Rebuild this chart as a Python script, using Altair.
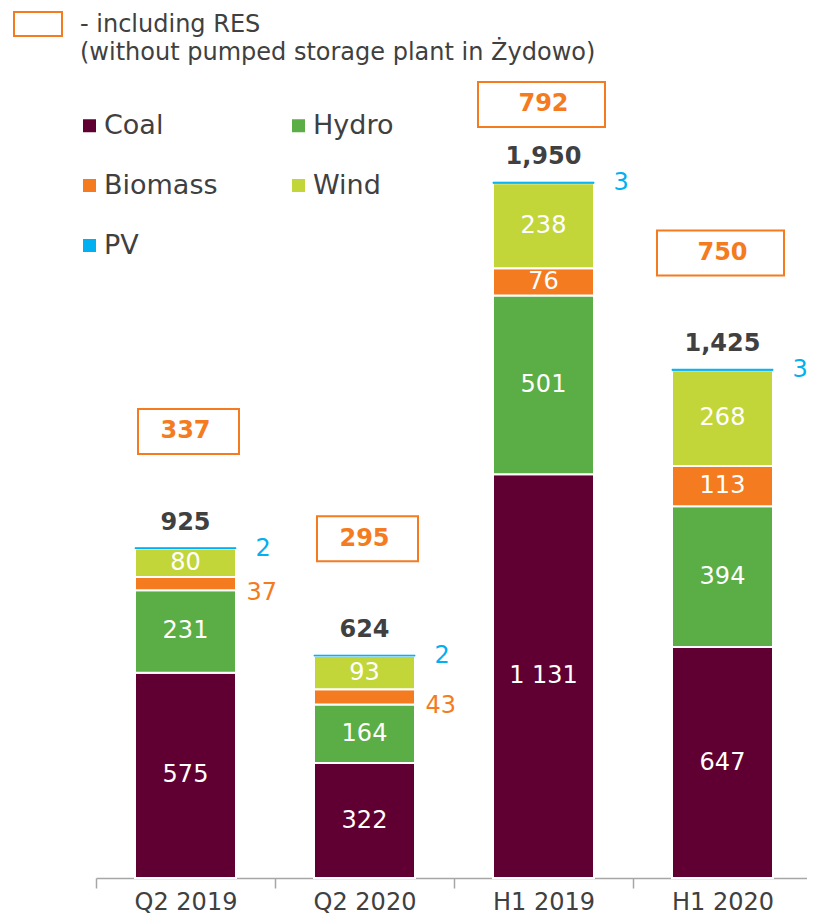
import altair as alt
import pandas as pd

# ---- data ----
periods = ["Q2 2019", "Q2 2020", "H1 2019", "H1 2020"]
sources = ["Coal", "Hydro", "Biomass", "Wind", "PV"]
coal = [575, 322, 1131, 647]
hydro = [231, 164, 501, 394]
biomass = [37, 43, 76, 113]
wind = [80, 93, 238, 268]
pv = [2, 2, 3, 3]
totals = [925, 624, 1950, 1425]
res_totals = [337, 295, 792, 750]
header_lines = ["- including RES", "(without pumped storage plant in Żydowo)"]

source_colors = {
    "Coal": "#600032",
    "Hydro": "#5BAD45",
    "Biomass": "#F47B20",
    "Wind": "#C2D63A",
    "PV": "#00B0F0",
}
# legend fills column by column: Coal, Biomass, PV | Hydro, Wind
legend_order = ["Coal", "Biomass", "PV", "Hydro", "Wind"]
ORANGE = "#F47B20"
BLUE = "#00B0F0"
GREY = "#404040"
FONT = "DejaVu Sans"

rows = []
for i, p in enumerate(periods):
    for j, (s, vals) in enumerate(zip(sources, [coal, hydro, biomass, wind, pv])):
        rows.append({"period": p, "source": s, "order": j, "value": vals[i]})
seg = pd.DataFrame(rows)
tot = pd.DataFrame({"period": periods, "total": totals, "res": res_totals})

ysc = alt.Scale(domain=[0, 2437])
x = alt.X(
    "period:N",
    sort=periods,
    scale=alt.Scale(range=[88, 804], paddingInner=0, paddingOuter=0),
    axis=alt.Axis(
        title=None, labelAngle=0, tickBand="extent",
        domainColor="#A6A6A6", domainWidth=1.5, tickColor="#A6A6A6",
        tickWidth=1.5, tickSize=10, labelFontSize=24, labelColor=GREY,
        labelPadding=2, labelFont=FONT,
    ),
)

stacked = alt.Chart(seg).transform_stack(
    stack="value", groupby=["period"], sort=[alt.SortField("order")], as_=["y0", "y1"]
).transform_calculate(
    mid="(datum.y0 + datum.y1) / 2",
    lab="replace(format(datum.value, ','), ',', ' ')",
)

bars = stacked.mark_bar(width=101).encode(
    x=x,
    y=alt.Y("y0:Q", scale=ysc, axis=None),
    y2="y1:Q",
    color=alt.Color(
        "source:N",
        scale=alt.Scale(domain=legend_order, range=[source_colors[s] for s in legend_order]),
        legend=alt.Legend(
            orient="none", legendX=68, legendY=104, columns=2, title=None,
            symbolType="square", symbolSize=169, symbolStrokeWidth=0,
            labelFontSize=27, labelColor=GREY, labelFont=FONT, labelOffset=1,
            rowPadding=32, columnPadding=67, labelLimit=0,
        ),
    ),
    stroke=alt.condition("datum.source == 'PV'", alt.value(BLUE), alt.value("white")),
    strokeWidth=alt.condition("datum.source == 'PV'", alt.value(1), alt.value(2)),
)

inside = stacked.transform_filter(
    "datum.source != 'PV' && !(datum.source == 'Biomass' && datum.value < 50)"
).mark_text(color="white", fontSize=24, font=FONT, baseline="middle").encode(
    x=x, y=alt.Y("mid:Q", scale=ysc, axis=None), text="lab:N"
)

outside_bio = stacked.transform_filter(
    "datum.source == 'Biomass' && datum.value < 50"
).mark_text(color=ORANGE, fontSize=24, font=FONT, align="left", baseline="middle", dx=61, dy=9).encode(
    x=x, y=alt.Y("mid:Q", scale=ysc, axis=None), text="lab:N"
)

pv_lab = stacked.transform_filter("datum.source == 'PV'").mark_text(
    color=BLUE, fontSize=24, font=FONT, align="left", baseline="middle", dx=70, dy=1
).encode(x=x, y=alt.Y("y1:Q", scale=ysc, axis=None), text="lab:N")

totbase = alt.Chart(tot).transform_calculate(
    tlab="format(datum.total, ',')",
    bc="min(datum.total + 326, 2167)",
    b0="datum.bc - 63",
    b1="datum.bc + 63",
)

total_lab = totbase.mark_text(
    color=GREY, fontSize=24, font=FONT, fontWeight="bold", baseline="middle", dy=-25
).encode(x=x, y=alt.Y("total:Q", scale=ysc, axis=None), text="tlab:N")

box_q = totbase.transform_filter("indexof(datum.period, 'Q') == 0").mark_bar(
    width=101, fill="white", stroke=ORANGE, strokeWidth=2, xOffset=3
).encode(x=x, y=alt.Y("b0:Q", scale=ysc, axis=None), y2="b1:Q")

box_h = totbase.transform_filter("indexof(datum.period, 'H') == 0").mark_bar(
    width=127, fill="white", stroke=ORANGE, strokeWidth=2, xOffset=-2
).encode(x=x, y=alt.Y("b0:Q", scale=ysc, axis=None), y2="b1:Q")

box_txt = totbase.mark_text(
    color=ORANGE, fontSize=24, font=FONT, fontWeight="bold", baseline="middle"
).encode(x=x, y=alt.Y("bc:Q", scale=ysc, axis=None), text="res:N")

# header (legend for the RES boxes)
hdr_box = alt.Chart(pd.DataFrame({"k": [0]})).mark_rect(
    fill="white", stroke=ORANGE, strokeWidth=2
).encode(x=alt.value(6), x2=alt.value(54), y=alt.value(4), y2=alt.value(28))

hdr1 = alt.Chart(pd.DataFrame({"t": [header_lines[0]]})).mark_text(
    color=GREY, fontSize=24, font=FONT, align="left", baseline="middle"
).encode(x=alt.value(72), y=alt.value(17), text="t:N")

hdr2 = alt.Chart(pd.DataFrame({"t": [header_lines[1]]})).mark_text(
    color=GREY, fontSize=24, font=FONT, align="left", baseline="middle"
).encode(x=alt.value(72), y=alt.value(45), text="t:N")

chart = alt.layer(
    bars, inside, outside_bio, pv_lab, total_lab, box_q, box_h, box_txt, hdr_box, hdr1, hdr2
).properties(
    width=799, height=870,
    autosize=alt.AutoSizeParams(type="none"),
    padding={"left": 0, "top": 0, "right": 0, "bottom": 37},
).configure(font=FONT).configure_view(stroke=None)

chart.save("out.html", embed_options={"renderer": "svg", "actions": False})
